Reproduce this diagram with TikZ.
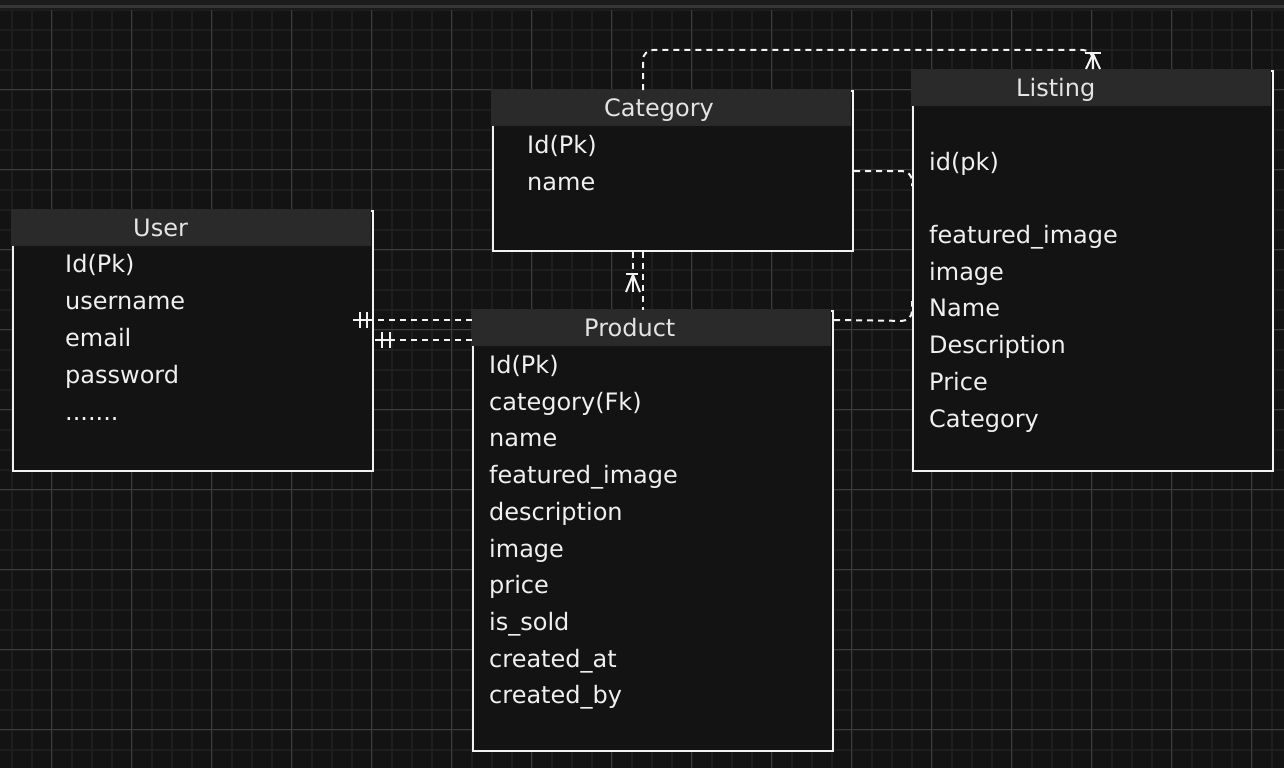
\documentclass[tikz,border=0pt]{standalone}
\usepackage{fontspec}
\setmainfont{DejaVu Sans}
\usetikzlibrary{calc,positioning}

\definecolor{canvas}{HTML}{131313}
\definecolor{topbar}{HTML}{1B1B1B}
\definecolor{topband}{HTML}{363636}
\definecolor{minorgrid}{HTML}{1E1E1E}
\definecolor{majorgrid}{HTML}{3C3C3C}
\definecolor{boxfill}{HTML}{131313}
\definecolor{headfill}{HTML}{2A2A2A}
\definecolor{edge}{HTML}{F2F2F2}
\definecolor{titletext}{HTML}{E4E4E4}
\definecolor{fieldtext}{HTML}{F0F0F0}

\begin{document}
\begin{tikzpicture}[x=1pt,y=-1pt,
    entity/.style={draw=edge, fill=boxfill, line width=2pt, minimum width=360pt, inner sep=0pt, anchor=north west},
    header/.style={fill=headfill, minimum width=360pt, minimum height=37pt, inner sep=0pt, anchor=north west},
    title/.style={text=titletext, inner sep=0pt, anchor=base west, font=\fontsize{24pt}{28pt}\selectfont},
    field/.style={text=fieldtext, inner sep=0pt, anchor=base west, font=\fontsize{24pt}{28pt}\selectfont},
    rel/.style={draw=edge, line width=2pt, dash pattern=on 6pt off 5pt},
    tick/.style={draw=edge, line width=2pt}]

        % canvas and grid
        \useasboundingbox (0,0) rectangle (1284,768);
        \fill[canvas] (0,0) rectangle (1284,768);
        \begin{scope}[shift={(11.7,9.7)}]
            \draw[minorgrid, line width=2pt, step=20pt] (-11.7,0) grid (1272.3,758.3);
        \end{scope}
        \begin{scope}[shift={(51.7,9.7)}]
            \draw[majorgrid, line width=1pt, step=80pt] (-51.7,0) grid (1232.3,758.3);
        \end{scope}
        \fill[topbar] (0,0) rectangle (1284,10);
        \fill[topband] (0,5) rectangle (1284,8);

        % tables
        \node[entity, minimum height=260pt] (user) at (12,210) {};
        \node[entity, minimum height=160pt] (category) at (492,90) {};
        \node[entity, minimum height=400pt] (listing) at (912,70) {};
        \node[entity, minimum height=440pt] (product) at (472,310) {};

        \node[header] (userhead) at ($(user.north west)+(-1,-1)$) {};
        \node[header] (categoryhead) at ($(category.north west)+(-1,-1)$) {};
        \node[header] (listinghead) at ($(listing.north west)+(-1,-1)$) {};
        \node[header] (producthead) at ($(product.north west)+(-1,-1)$) {};

        \node[title] (usertitle) at ($(user.north west)+(121,26.5)$) {User};
        \node[title] (categorytitle) at ($(category.north west)+(112,26.5)$) {Category};
        \node[title] (listingtitle) at ($(listing.north west)+(104,26.5)$) {Listing};
        \node[title] (producttitle) at ($(product.north west)+(112,26.5)$) {Product};

        % fields
        \foreach \f [count=\i] in {Id(Pk),username,email,password}
            \node[field] (user-\i) at (65,{272.5+36.9*(\i-1)}) {\f};
        \node[field] (user-5) at (65,420.1) {.......};
        \foreach \f [count=\i] in {Id(Pk),name}
            \node[field] (category-\i) at (527,{153.5+36.9*(\i-1)}) {\f};
        \node[field] (listing-0) at (929,170.5) {id(pk)};
        \foreach \f [count=\i] in {featured\_image,image,Name,Description,Price,Category}
            \node[field] (listing-\i) at (929,{243.5+36.7*(\i-1)}) {\f};
        \foreach \f [count=\i] in {Id(Pk),category(Fk),name,featured\_image,description,image,price,is\_sold,created\_at,created\_by}
            \node[field] (product-\i) at (489,{373.5+36.7*(\i-1)}) {\f};

        % relations
        \coordinate (topleft) at ($(category.north)+(-30,0)$);
        \coordinate (topright) at ($(listing.north)+(0,-1)$);
        \draw[rel, rounded corners=10pt] (topleft) -- ($(topleft)+(0,-40)$) -- ($(topright)+(0,-19)$) -- (topright);
        \draw[tick] ($(topright)+(-8,-16)$) -- ($(topright)+(8,-16)$);
        \draw[tick] ($(topright)+(0,-15)$) -- ($(topright)+(-7,0)$);
        \draw[tick] ($(topright)+(0,-15)$) -- ($(topright)+(7,0)$);
        \draw[tick] ($(topright)+(0,-15)$) -- (topright);

        \coordinate (catfoot) at ($(category.south)+(-40,40)$);
        \draw[rel] ($(category.south)+(-40,0)$) -- (catfoot);
        \draw[tick] ($(catfoot)+(-7,-18)$) -- ($(catfoot)+(5,-18)$);
        \draw[tick] ($(catfoot)+(0,-17)$) -- ($(catfoot)+(-7,0)$);
        \draw[tick] ($(catfoot)+(0,-17)$) -- ($(catfoot)+(7,0)$);
        \draw[tick] ($(catfoot)+(0,-17)$) -- (catfoot);
        \draw[rel] ($(category.south)+(-30,0)$) -- ($(product.north)+(-10,0)$);

        \coordinate (userend) at (353,320);
        \draw[rel] ($(product.north west)+(0,10)$) -- (userend);
        \draw[tick] (userend) -- ++(19,0);
        \draw[tick] ($(userend)+(7,-8)$) -- ++(0,16);
        \draw[tick] ($(userend)+(14,-8)$) -- ++(0,16);
        \coordinate (userside) at ($(user.north east)+(1,130)$);
        \draw[rel] ($(product.north west)+(0,30)$) -- (userside);
        \draw[tick] (userside) -- ++(19,0);
        \draw[tick] ($(userside)+(7,-8)$) -- ++(0,16);
        \draw[tick] ($(userside)+(15,-8)$) -- ++(0,16);

        \draw[rel, rounded corners=10pt] (category.east) -- ($(listing.west)+(0,-100)$) -- ($(listing.west)+(0,-85)$);
        \draw[rel, rounded corners=10pt] ($(product.north east)+(0,10)$) -- ($(listing.west)+(0,50)$) -- ($(listing.west)+(0,30)$);
    \end{tikzpicture}
\end{document}
